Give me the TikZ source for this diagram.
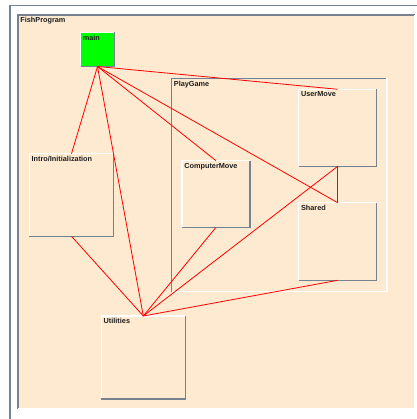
\documentclass[tikz,border=0pt]{standalone}
\usepackage{fontspec}
\setmainfont{Liberation Sans}
\definecolor{almond}{RGB}{254,234,208}
\definecolor{bevelgray}{RGB}{118,130,144}
\definecolor{labeltext}{RGB}{30,30,30}
\newcommand\raisededge[1]{%
  \draw[bevel light] (#1.south west) |- (#1.north east);
  \draw[bevel dark] (#1.south west) -| (#1.north east);}
\newcommand\sunkenedge[1]{%
  \draw[bevel dark] (#1.south west) |- (#1.north east);
  \draw[bevel light] (#1.south west) -| (#1.north east);}
\begin{document}
\begin{tikzpicture}[x=1pt,y=-1pt,
  bevel light/.style={draw=white,line width=1.3pt},
  bevel dark/.style={draw=bevelgray,line width=1.3pt},
  module/.style={fill=almond,draw=none,inner sep=0pt,outer sep=0pt,anchor=north west,
    minimum width=#1},
  tag/.style={anchor=north west,inner sep=2.2pt,text=labeltext,
    font=\fontsize{7.3}{8}\selectfont\bfseries},
  link/.style={draw=red,line width=0.8pt}]
\useasboundingbox (0,0) rectangle (416,419);
% outer frame and the program area
\node[module=410pt,fill=none,minimum height=420pt] (frame) at (10,5.5) {};
\node[module=397pt,minimum height=394pt,
  label={[tag]north west:FishProgram}] (fish) at (18,15) {};
\node[module=215.5pt,minimum height=213pt,
  label={[tag]north west:PlayGame}] (play) at (171.5,78.5) {};
\sunkenedge{frame}
\sunkenedge{fish}
\sunkenedge{play}
% modules
\node[module=34pt,minimum height=34pt,fill=green,
  label={[tag]north west:main}] (main) at (80.5,32.5) {};
\node[module=78pt,minimum height=77pt,
  label={[tag]north west:UserMove}] (user) at (298.7,89.3) {};
\node[module=78pt,minimum height=77.6pt,
  label={[tag]north west:Shared}] (shared) at (298.7,202.7) {};
\node[module=68pt,minimum height=66.6pt,
  label={[tag]north west:ComputerMove}] (comp) at (182,160.7) {};
\node[module=84.4pt,minimum height=82.6pt,
  label={[tag]north west:Intro/Initialization}] (intro) at (29.3,153.7) {};
\node[module=84pt,minimum height=83pt,
  label={[tag]north west:Utilities}] (util) at (101.3,316) {};
\raisededge{main}
\raisededge{user}
\raisededge{shared}
\raisededge{comp}
\raisededge{intro}
\raisededge{util}
% call links
\draw[link] (main.south) -- (intro.north);
\draw[link] (main.south) -- (util.north);
\draw[link] (main.south) -- (user.north);
\draw[link] (main.south) -- (comp.north);
\draw[link] (main.south) -- (shared.north);
\draw[link] (user.south) -- (shared.north);
\draw[link] (user.south) -- (util.north);
\draw[link] (comp.south) -- (util.north);
\draw[link] (shared.south) -- (util.north);
\draw[link] (intro.south) -- (util.north);
\end{tikzpicture}
\end{document}
